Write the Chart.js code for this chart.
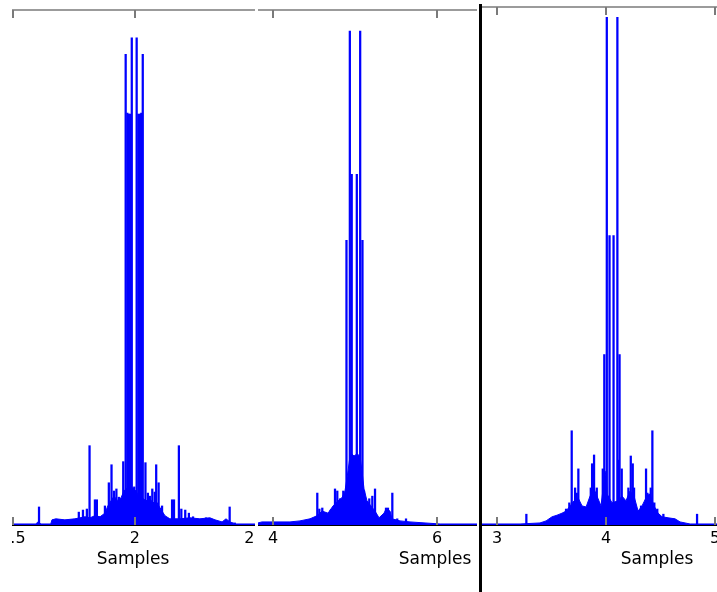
<!DOCTYPE html>
<html>
<head>
<meta charset="utf-8">
<script src="https://cdn.jsdelivr.net/npm/chart.js@4"></script>
<style>
html, body { margin: 0; padding: 0; background: #fff; }
body { width: 717px; height: 592px; position: relative; overflow: hidden; }
.panel { position: absolute; top: 0; height: 592px; overflow: hidden; }
.panel canvas { position: absolute; top: 0; }
#divider { position: absolute; left: 479px; top: 4px; width: 3px; height: 588px; background: #000; }
</style>
</head>
<body>
<div class="panel" style="left:12px;width:243px"><canvas id="c1" width="328" height="592" style="left:-43px"></canvas></div>
<div class="panel" style="left:258px;width:219px"><canvas id="c2" width="434" height="592" style="left:-40px"></canvas></div>
<div class="panel" style="left:482px;width:235px"><canvas id="c3" width="430" height="592" style="left:-40px"></canvas></div>
<div id="divider"></div>
<script>
// panel 1 : low level spectrum (envelope) + single lines
var p1EnvX = [1.484, 1.594, 1.602, 1.615, 1.655, 1.660, 1.676, 1.713, 1.754, 1.775, 1.795, 1.816, 1.836, 1.857, 1.877, 1.889, 1.902, 1.914, 1.930, 1.943, 1.955, 1.967, 1.992, 2.004, 2.016, 2.029, 2.045, 2.061, 2.074, 2.086, 2.098, 2.111, 2.123, 2.143, 2.184, 2.225, 2.266, 2.307, 2.328, 2.357, 2.373, 2.389, 2.414, 2.500]
var p1EnvY = [0.002, 0.002, 0.006, 0.002, 0.002, 0.010, 0.012, 0.010, 0.012, 0.014, 0.016, 0.014, 0.018, 0.016, 0.023, 0.037, 0.047, 0.056, 0.047, 0.053, 0.066, 0.072, 0.072, 0.066, 0.056, 0.053, 0.047, 0.051, 0.043, 0.047, 0.037, 0.027, 0.018, 0.012, 0.012, 0.014, 0.012, 0.014, 0.010, 0.006, 0.012, 0.006, 0.002, 0.002]
var p1LineX = [1.607, 1.770, 1.787, 1.803, 1.814, 1.836, 1.844, 1.877, 1.893, 1.904, 1.914, 1.924, 1.934, 1.939, 1.952, 1.962, 1.969, 1.975, 1.981, 1.987, 1.997, 2.007, 2.014, 2.020, 2.026, 2.032, 2.043, 2.053, 2.061, 2.071, 2.081, 2.087, 2.097, 2.111, 2.152, 2.160, 2.180, 2.190, 2.206, 2.221, 2.238, 2.291, 2.388, 2.409]
var p1LineY = [0.035, 0.025, 0.029, 0.031, 0.154, 0.049, 0.049, 0.037, 0.082, 0.117, 0.066, 0.070, 0.054, 0.051, 0.123, 0.914, 0.800, 0.798, 0.798, 0.946, 0.074, 0.946, 0.798, 0.798, 0.800, 0.914, 0.121, 0.062, 0.056, 0.070, 0.064, 0.117, 0.082, 0.037, 0.049, 0.049, 0.154, 0.031, 0.029, 0.023, 0.016, 0.014, 0.035, 0.004]
var p1Ticks = [1.5, 2, 2.5]

// panel 2
var p2EnvX = [3.817, 3.866, 3.963, 4.207, 4.329, 4.451, 4.537, 4.598, 4.671, 4.732, 4.793, 4.841, 4.878, 4.915, 4.939, 4.963, 4.988, 5.024, 5.061, 5.085, 5.110, 5.146, 5.195, 5.244, 5.293, 5.354, 5.378, 5.427, 5.451, 5.549, 5.671, 5.854, 6.037, 8.134]
var p2EnvY = [0.004, 0.006, 0.006, 0.006, 0.008, 0.012, 0.018, 0.027, 0.023, 0.037, 0.047, 0.053, 0.066, 0.105, 0.134, 0.138, 0.134, 0.138, 0.134, 0.105, 0.070, 0.047, 0.037, 0.027, 0.014, 0.023, 0.031, 0.027, 0.012, 0.008, 0.006, 0.004, 0.002, 0.002]
var p2LineX = [4.540, 4.565, 4.601, 4.626, 4.704, 4.756, 4.784, 4.817, 4.857, 4.896, 4.937, 4.960, 5.022, 5.063, 5.091, 5.110, 5.150, 5.174, 5.211, 5.244, 5.378, 5.402, 5.455, 5.479, 5.515, 5.622]
var p2LineY = [0.062, 0.031, 0.033, 0.021, 0.029, 0.070, 0.066, 0.051, 0.066, 0.553, 0.959, 0.681, 0.681, 0.959, 0.553, 0.066, 0.029, 0.051, 0.056, 0.070, 0.033, 0.033, 0.062, 0.010, 0.012, 0.012]
var p2Ticks = [4, 6, 8]

// panel 3
var p3EnvX = [2.862, 3.211, 3.394, 3.450, 3.505, 3.550, 3.596, 3.633, 3.670, 3.706, 3.743, 3.780, 3.817, 3.853, 3.890, 3.927, 3.954, 3.982, 4.000, 4.010, 4.055, 4.110, 4.147, 4.183, 4.220, 4.257, 4.294, 4.330, 4.367, 4.404, 4.440, 4.477, 4.514, 4.569, 4.633, 4.679, 4.771, 6.073]
var p3EnvY = [0.002, 0.002, 0.004, 0.008, 0.016, 0.019, 0.023, 0.027, 0.037, 0.047, 0.053, 0.037, 0.035, 0.056, 0.070, 0.051, 0.037, 0.086, 0.105, 0.060, 0.043, 0.047, 0.056, 0.047, 0.066, 0.056, 0.027, 0.037, 0.053, 0.060, 0.037, 0.023, 0.016, 0.014, 0.012, 0.006, 0.002, 0.002]
var p3LineX = [3.269, 3.633, 3.663, 3.685, 3.716, 3.731, 3.746, 3.761, 3.838, 3.860, 3.872, 3.890, 3.915, 3.939, 3.970, 3.984, 4.007, 4.032, 4.069, 4.104, 4.113, 4.124, 4.144, 4.174, 4.205, 4.227, 4.245, 4.257, 4.282, 4.321, 4.367, 4.379, 4.397, 4.410, 4.425, 4.443, 4.470, 4.526, 4.835]
var p3LineY = [0.021, 0.031, 0.043, 0.183, 0.072, 0.062, 0.109, 0.037, 0.027, 0.072, 0.119, 0.136, 0.072, 0.033, 0.109, 0.331, 0.986, 0.562, 0.562, 0.986, 0.126, 0.331, 0.109, 0.033, 0.072, 0.134, 0.119, 0.072, 0.023, 0.037, 0.109, 0.062, 0.060, 0.072, 0.183, 0.043, 0.031, 0.021, 0.021]
var p3Ticks = [3, 4, 5, 6]

Chart.defaults.font.family = "'DejaVu Sans', sans-serif"
Chart.defaults.color = '#000'
var blue = '#0000ff'

// top border line + inward tick marks (matlab style)
const frameLines = {
    id: 'frameLines',
    afterDraw(chart) {
        const ctx = chart.ctx, a = chart.chartArea, x = chart.scales.x
        ctx.save()
        ctx.strokeStyle = '#7a7a7a'
        ctx.lineWidth = 1.5
        ctx.beginPath()
        ctx.moveTo(a.left, a.top)
        ctx.lineTo(a.right, a.top)
        ctx.stroke()
        ctx.lineWidth = 2
        ctx.beginPath()
        x.ticks.forEach((t) => {
            const px = Math.round(x.getPixelForValue(t.value))
            ctx.moveTo(px, a.top)
            ctx.lineTo(px, a.top + 8)
            ctx.moveTo(px, a.bottom)
            ctx.lineTo(px, a.bottom - 8)
        })
        ctx.stroke()
        ctx.restore()
    }
}

function drawPanel(id, envX, envY, lineX, lineY, ticks, xMin, xMax, yMax, top){
    return new Chart(document.getElementById(id), {
        type: 'bar',
        data: {
            datasets: [{
                type: 'line',
                data: envX.map((x, i) => ({x: x, y: envY[i]})),
                borderColor: blue,
                backgroundColor: blue,
                borderWidth: 1,
                pointRadius: 0,
                fill: 'origin',
                tension: 0
            }, {
                type: 'bar',
                data: lineX.map((x, i) => ({x: x, y: lineY[i]})),
                backgroundColor: blue,
                borderWidth: 0,
                barThickness: 1.6
            }]
        },
        options: {
            responsive: false,
            animation: false,
            layout: { padding: { left: 40, right: 40, top: top, bottom: 22 } },
            plugins: { legend: { display: false }, tooltip: { enabled: false } },
            scales: {
                x: {
                    type: 'linear',
                    offset: false,
                    min: xMin,
                    max: xMax,
                    grid: { display: false },
                    border: { display: true, color: '#000', width: 1 },
                    afterBuildTicks: (scale) => { scale.ticks = ticks.map((v) => ({value: v})) },
                    afterFit: (scale) => { scale.height = 45 },
                    ticks: {
                        autoSkip: false,
                        maxRotation: 0,
                        padding: -4,
                        font: { size: 16 },
                        callback: (v) => String(v)
                    },
                    title: {
                        display: true,
                        text: 'Samples',
                        font: { size: 17 },
                        padding: { top: 0, bottom: 0 }
                    }
                },
                y: { display: false, min: 0, max: yMax }
            }
        },
        plugins: [frameLines]
    })
}

drawPanel('c1', p1EnvX, p1EnvY, p1LineX, p1LineY, p1Ticks, 1.484, 2.5, 1, 10)
drawPanel('c2', p2EnvX, p2EnvY, p2LineX, p2LineY, p2Ticks, 3.817, 8.134, 1, 10)
drawPanel('c3', p3EnvX, p3EnvY, p3LineX, p3LineY, p3Ticks, 2.862, 6.073, 1.006, 7)
</script>
</body>
</html>
